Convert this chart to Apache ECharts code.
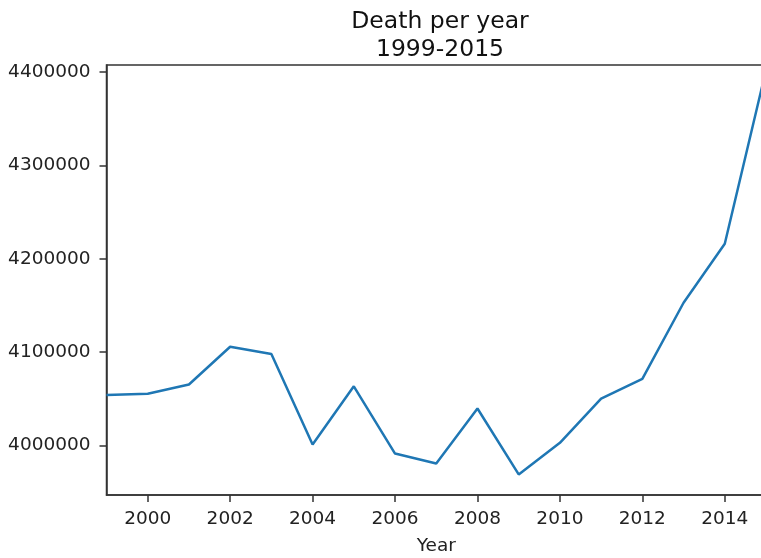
<!DOCTYPE html>
<html>
<head>
<meta charset="utf-8">
<script src="https://cdn.jsdelivr.net/npm/echarts@6/dist/echarts.min.js"></script>
<style>html,body{margin:0;padding:0;background:#fff;}#c{width:761px;height:558px;}</style>
</head>
<body>
<div id="c"></div>
<script>
const years = [1999,2000,2001,2002,2003,2004,2005,2006,2007,2008,2009,2010,2011,2012,2013,2014,2015];
const deaths = [4054000,4055500,4065300,4105800,4097900,4001000,4063400,3991400,3980700,4039600,3969000,4002900,4050300,4071300,4152900,4216000,4402000];
const xTicks = [2000,2002,2004,2006,2008,2010,2012,2014];
const yTicks = [4000000,4100000,4200000,4300000,4400000];
const titleText = 'Death per year\n1999-2015';
const xName = 'Year';

const chart = echarts.init(document.getElementById('c'));
const font = 'DejaVu Sans';
chart.setOption({
  animation: false,
  backgroundColor: '#fff',
  title: {
    text: titleText,
    left: 435, top: 3, textAlign: 'center',
    textStyle: {fontFamily: font, fontSize: 23.5, fontWeight: 'normal', color: '#111', lineHeight: 28}
  },
  grid: {left: 106.5, top: 65, width: 659.5, bottom: 63, outerBoundsMode: 'none', containLabel: false,
         show: true, borderColor: '#333', borderWidth: 1.5, backgroundColor: 'transparent'},
  xAxis: {
    type: 'value', min: 1999, max: 2015,
    name: xName, nameLocation: 'middle', nameGap: 42,
    nameTextStyle: {fontFamily: font, fontSize: 18.5, color: '#222'},
    axisLine: {show: true, onZero: false, lineStyle: {color: '#333', width: 1.5}},
    axisTick: {show: true, length: 7, customValues: xTicks, lineStyle: {color: '#333', width: 1.5}},
    axisLabel: {customValues: xTicks, fontFamily: font, fontSize: 18.5, color: '#222', margin: 15, formatter: v => String(v)},
    splitLine: {show: false}
  },
  yAxis: {
    type: 'value', min: 3947000, max: 4407500,
    axisLine: {show: true, onZero: false, lineStyle: {color: '#333', width: 1.5}},
    axisTick: {show: true, length: 7, customValues: yTicks, lineStyle: {color: '#333', width: 1.5}},
    axisLabel: {customValues: yTicks, fontFamily: font, fontSize: 18.5, color: '#222', margin: 16, formatter: v => String(v)},
    splitLine: {show: false}
  },
  series: [{
    type: 'line',
    data: years.map((y, i) => [y, deaths[i]]),
    showSymbol: false,
    lineStyle: {color: '#1f77b4', width: 2.5},
    clip: true
  }]
});
</script>
</body>
</html>
